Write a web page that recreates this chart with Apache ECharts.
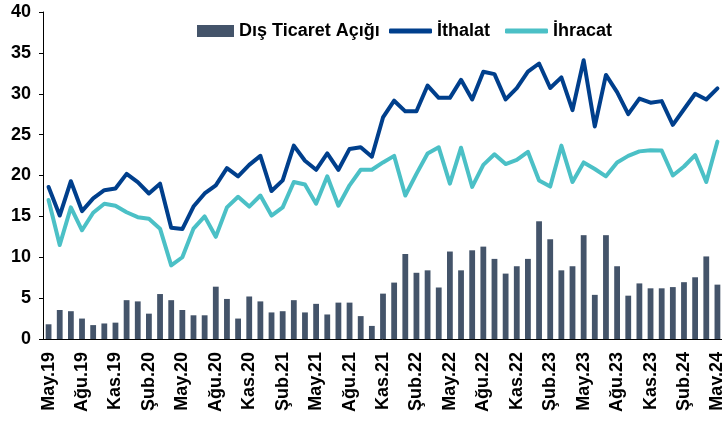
<!DOCTYPE html>
<html>
<head>
<meta charset="utf-8">
<script src="https://cdn.jsdelivr.net/npm/echarts@6/dist/echarts.min.js"></script>
<style>html,body{margin:0;padding:0;background:#fff;}#c{width:722px;height:428px;}</style>
</head>
<body>
<div id="c"></div>
<script>
var categories = [
  'May.19','Haz.19','Tem.19','Ağu.19','Eyl.19','Eki.19','Kas.19','Ara.19',
  'Oca.20','Şub.20','Mar.20','Nis.20','May.20','Haz.20','Tem.20','Ağu.20','Eyl.20','Eki.20','Kas.20','Ara.20',
  'Oca.21','Şub.21','Mar.21','Nis.21','May.21','Haz.21','Tem.21','Ağu.21','Eyl.21','Eki.21','Kas.21','Ara.21',
  'Oca.22','Şub.22','Mar.22','Nis.22','May.22','Haz.22','Tem.22','Ağu.22','Eyl.22','Eki.22','Kas.22','Ara.22',
  'Oca.23','Şub.23','Mar.23','Nis.23','May.23','Haz.23','Tem.23','Ağu.23','Eyl.23','Eki.23','Kas.23','Ara.23',
  'Oca.24','Şub.24','Mar.24','Nis.24','May.24'
];
var disTicaretAcigi = [
  1.8, 3.55, 3.4, 2.5, 1.7, 1.9, 2.0, 4.75, 4.6, 3.1,
  5.5, 4.75, 3.55, 2.9, 2.9, 6.4, 4.9, 2.5, 5.2, 4.6,
  3.25, 3.4, 4.75, 3.25, 4.3, 3.0, 4.45, 4.45, 2.8, 1.6,
  5.55, 6.9, 10.4, 8.1, 8.4, 6.3, 10.7, 8.4, 10.85, 11.3,
  9.8, 8.0, 8.9, 9.8, 14.4, 12.2, 8.4, 8.9, 12.7, 5.4,
  12.7, 8.9, 5.3, 6.8, 6.2, 6.2, 6.35, 6.95, 7.55, 10.1,
  6.65
];
var ithalat = [
  18.6, 15.1, 19.3, 15.65, 17.2, 18.2, 18.4, 20.2, 19.2, 17.8,
  19.0, 13.6, 13.45, 16.2, 17.8, 18.8, 20.9, 19.9, 21.3, 22.4,
  18.1, 19.4, 23.65, 21.8, 20.7, 22.7, 20.7, 23.25, 23.45, 22.3,
  27.1, 29.15, 27.85, 27.85, 31.0, 29.5, 29.5, 31.7, 29.3, 32.7,
  32.4, 29.3, 30.7, 32.7, 33.7, 30.7, 32.0, 28.0, 34.1, 26.0,
  32.3, 30.2, 27.5, 29.4, 28.9, 29.1, 26.2, 28.1, 30.0, 29.3,
  30.65
];
var ihracat = [
  17.0, 11.5, 16.1, 13.3, 15.45, 16.55, 16.3, 15.5, 14.9, 14.7,
  13.5, 9.0, 10.0, 13.5, 15.0, 12.5, 16.1, 17.4, 16.2, 17.55,
  15.1, 16.1, 19.2, 18.9, 16.55, 19.9, 16.3, 18.8, 20.7, 20.7,
  21.6, 22.4, 17.55, 20.2, 22.7, 23.45, 19.0, 23.4, 18.6, 21.3,
  22.6, 21.4, 21.9, 22.9, 19.4, 18.65, 23.65, 19.2, 21.6, 20.8,
  19.9, 21.6, 22.4, 22.95, 23.1, 23.05, 20.0, 21.1, 22.5, 19.2,
  24.15
];

var chart = echarts.init(document.getElementById('c'), null, {renderer: 'canvas'});
var font = 'Liberation Sans, Arial, sans-serif';
var legendText = {fontSize: 18, fontWeight: 'bold', color: '#000', fontFamily: font};
chart.setOption({
  animation: false,
  textStyle: {fontFamily: font},
  legend: [
    {
      left: 197, top: 22, padding: 0,
      itemWidth: 37, itemHeight: 12,
      textStyle: legendText,
      data: [{name: 'Dış Ticaret Açığı', icon: 'rect'}]
    },
    {
      left: 389, top: 22, padding: 0,
      itemWidth: 43, itemHeight: 5, itemGap: 15,
      icon: 'roundRect',
      textStyle: legendText,
      data: ['İthalat', 'İhracat']
    }
  ],
  grid: {left: 43, right: -1, top: 12, bottom: 89, containLabel: false, outerBoundsMode: 'none'},
  xAxis: {
    type: 'category',
    data: categories,
    boundaryGap: true,
    axisLine: {lineStyle: {color: '#000', width: 1}},
    axisTick: {interval: 2, length: 5, lineStyle: {color: '#000'}},
    axisLabel: {interval: 2, rotate: 90, margin: 13, fontSize: 18, fontWeight: 'bold', color: '#000', fontFamily: font}
  },
  yAxis: {
    type: 'value', min: 0, max: 40, interval: 5,
    axisLine: {show: true, lineStyle: {color: '#000', width: 1}},
    axisTick: {show: true, length: 4, lineStyle: {color: '#000'}},
    splitLine: {show: false},
    axisLabel: {margin: 12, fontSize: 18, fontWeight: 'bold', color: '#000', fontFamily: font}
  },
  series: [
    {name: 'Dış Ticaret Açığı', type: 'bar', data: disTicaretAcigi, barWidth: '52%',
     itemStyle: {color: '#44546A'}},
    {name: 'İthalat', type: 'line', data: ithalat, symbol: 'none', showSymbol: false,
     lineStyle: {color: '#003F8C', width: 4, cap: 'round', join: 'round'}, itemStyle: {color: '#003F8C'}},
    {name: 'İhracat', type: 'line', data: ihracat, symbol: 'none', showSymbol: false,
     lineStyle: {color: '#4BC0C6', width: 4, cap: 'round', join: 'round'}, itemStyle: {color: '#4BC0C6'}}
  ]
});
</script>
</body>
</html>
